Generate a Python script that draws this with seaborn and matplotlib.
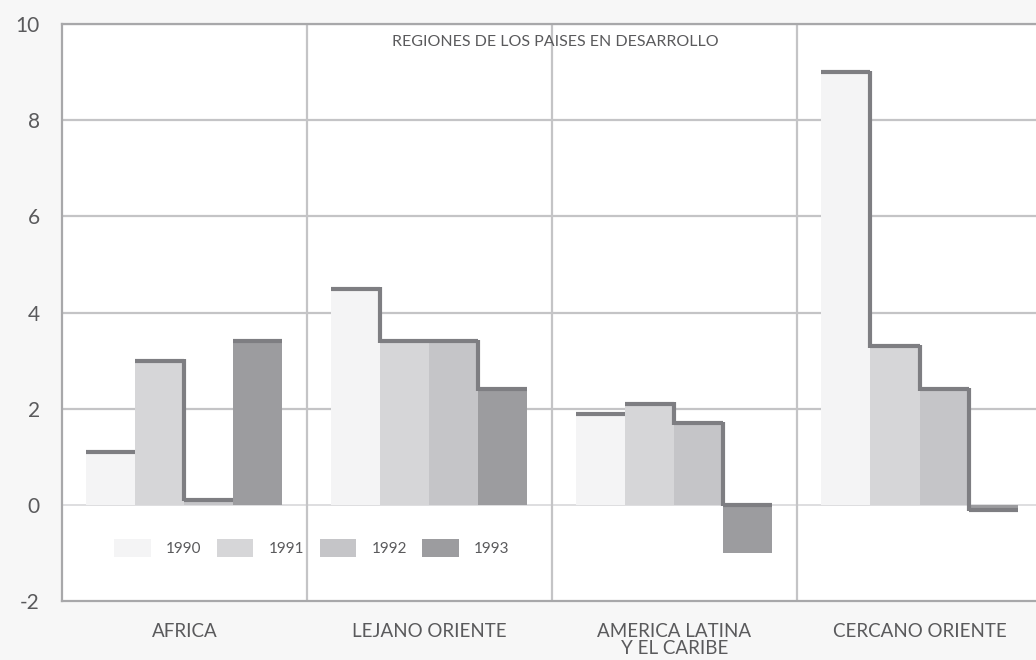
import matplotlib
matplotlib.use("Agg")
import matplotlib.pyplot as plt
import matplotlib.transforms as mtransforms
import seaborn as sns
import pandas as pd

# Growth by developing-country region, 1990-1993 (%)
regions = ["AFRICA", "LEJANO ORIENTE", "AMERICA LATINA\nY EL CARIBE", "CERCANO ORIENTE"]
years = ["1990", "1991", "1992", "1993"]
v1990 = [1.1, 4.5, 1.9, 9.0]
v1991 = [3.0, 3.4, 2.1, 3.3]
v1992 = [0.1, 3.4, 1.7, 2.4]
v1993 = [3.4, 2.4, -1.0, -0.1]
yticks = [-2, 0, 2, 4, 6, 8, 10]

series = [v1990, v1991, v1992, v1993]
df = pd.DataFrame({
    "region": [r for _ in years for r in regions],
    "year": [y for y in years for _ in regions],
    "value": [v for s in series for v in s],
})

palette = ["#f4f4f5", "#d6d6d8", "#c5c5c8", "#9c9c9f"]
edge_dark = "#7e7e82"
grid_col = "#c4c4c6"
text_col = "#5a5a5c"

sns.set_theme(style="white")
plt.rcParams["font.family"] = ["Lato", "DejaVu Sans"]

fig = plt.figure(figsize=(10.36, 6.6), dpi=100, facecolor="#f7f7f7")
ax = fig.add_axes([0.0598, 0.0894, 0.946, 0.874])
ax.set_facecolor("white")

sns.barplot(data=df, x="region", y="value", hue="year", order=regions,
            hue_order=years, palette=palette, width=0.8, saturation=1,
            linewidth=0, ax=ax, legend=True, zorder=2)

# dark stepped outline along the top of each group of bars
for i in range(len(regions)):
    bars = [c[i] for c in ax.containers]
    tops = []
    for b in bars:
        h = b.get_y() + b.get_height() if b.get_height() >= 0 else b.get_y()
        # a deep negative bar hangs from the zero line; a shallow one keeps its edge
        if b.get_height() < 0 and abs(b.get_height()) < 0.5:
            h = b.get_height()
        tops.append(h)
    for k, b in enumerate(bars):
        x0, x1 = b.get_x(), b.get_x() + b.get_width()
        ax.plot([x0, x1], [tops[k], tops[k]], color=edge_dark, lw=3,
                solid_capstyle="butt", zorder=4)
        if k < len(bars) - 1 and tops[k + 1] < tops[k]:
            ax.plot([x1, x1], [tops[k] + 0.03, tops[k + 1] - 0.03], color=edge_dark,
                    lw=3, solid_capstyle="butt", zorder=4)

ax.set_xlim(-0.5, len(regions) - 0.5)
ax.set_ylim(-2, 10)
ax.set_yticks(yticks)
ax.set_yticklabels([str(t) for t in yticks], fontsize=15, color=text_col)

# horizontal grid and vertical region separators
for t in yticks[2:]:
    ax.axhline(t, color=grid_col, lw=1.6, zorder=1)
ax.axhline(0, color="#d8d8da", lw=1.2, zorder=1)
for s in range(1, len(regions)):
    ax.axvline(s - 0.5, color=grid_col, lw=1.6, zorder=1)

ax.set_xticks(range(len(regions)))
ax.set_xticklabels(regions, fontsize=13.5, color=text_col, linespacing=0.95, va="top")
ax.tick_params(axis="x", length=0, pad=16)
ax.tick_params(axis="y", length=0, pad=16)
ax.set_xlabel("")
ax.set_ylabel("")

for side in ["left", "bottom", "top"]:
    ax.spines[side].set_color("#a8a8aa")
    ax.spines[side].set_linewidth(1.6)
ax.spines["right"].set_visible(False)

ax.text(0.503, 9.62, "REGIONES DE LOS PAISES EN DESARROLLO", ha="center", va="center",
        fontsize=11.5, color=text_col,
        transform=mtransforms.blended_transform_factory(ax.transAxes, ax.transData))

leg = ax.legend(loc="center", bbox_to_anchor=(0.255, 0.092), ncol=4, frameon=False,
                fontsize=11, handlelength=2.4, handleheight=1.5, handletextpad=1.0,
                columnspacing=1.0)
for t in leg.get_texts():
    t.set_color(text_col)

fig.savefig("out.png", dpi=100, facecolor=fig.get_facecolor())
